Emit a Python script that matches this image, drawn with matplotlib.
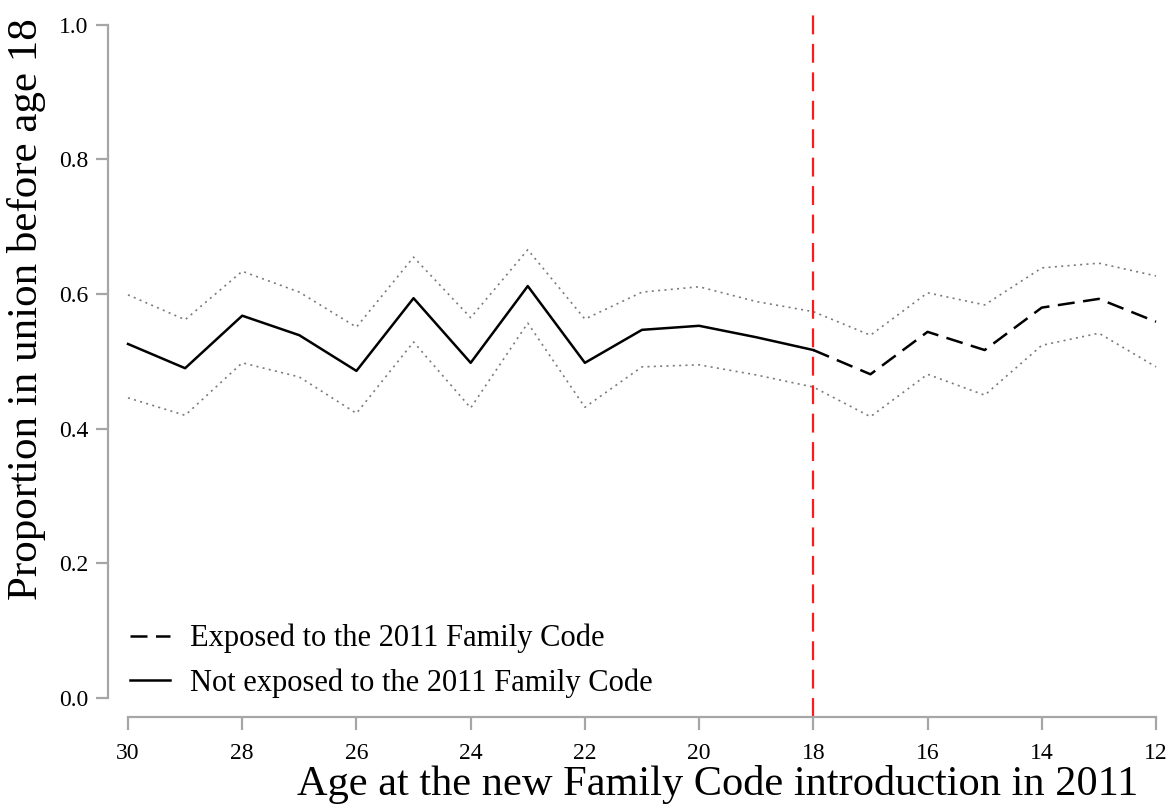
import matplotlib
matplotlib.use("Agg")
import matplotlib.pyplot as plt

plt.rcParams['font.family'] = ['Liberation Serif', 'DejaVu Serif']

# age at the 2011 Family Code introduction
ages = [30, 29, 28, 27, 26, 25, 24, 23, 22, 21, 20, 19, 18, 17, 16, 15, 14, 13, 12]
# proportion in union before 18, with confidence bounds
prop = [0.526, 0.490, 0.568, 0.539, 0.486, 0.594, 0.498, 0.612, 0.498, 0.547,
        0.553, 0.536, 0.517, 0.481, 0.544, 0.517, 0.580, 0.593, 0.559]
upper = [0.599, 0.562, 0.634, 0.603, 0.551, 0.655, 0.565, 0.666, 0.563, 0.603,
         0.611, 0.589, 0.574, 0.539, 0.602, 0.584, 0.639, 0.646, 0.627]
lower = [0.446, 0.420, 0.498, 0.477, 0.423, 0.529, 0.431, 0.557, 0.432, 0.492,
         0.495, 0.480, 0.462, 0.418, 0.481, 0.450, 0.524, 0.542, 0.492]
cutoff = 18

x_ticks = [30, 28, 26, 24, 22, 20, 18, 16, 14, 12]
y_ticks = [0.0, 0.2, 0.4, 0.6, 0.8, 1.0]

fig = plt.figure(figsize=(11.75, 8.1), dpi=100)
ax = fig.add_axes([108 / 1175, 93 / 810, 1068 / 1175, 707 / 810])

# confidence bounds
ax.plot(ages, upper, color='#7a7a7a', lw=1.2, linestyle=(0, (1.2, 2.6)))
ax.plot(ages, lower, color='#7a7a7a', lw=1.2, linestyle=(0, (1.2, 2.6)))

# split the series at the cutoff age
not_exp = [i for i, a in enumerate(ages) if a >= cutoff]
exp = [i for i, a in enumerate(ages) if a <= cutoff]
ax.plot([ages[i] for i in exp], [prop[i] for i in exp], color='black', lw=1.8,
        linestyle=(0, (6.8, 3.4)), label='Exposed to the 2011 Family Code')
ax.plot([ages[i] for i in not_exp], [prop[i] for i in not_exp], color='black', lw=1.8,
        label='Not exposed to the 2011 Family Code')

ax.axvline(cutoff, color='#ff1a1a', lw=1.6, linestyle=(0, (8.5, 4.3)))

ax.set_xlim(30.35, 11.65)
ax.set_ylim(-0.028, 1.022)

for s in ['top', 'right']:
    ax.spines[s].set_visible(False)
for s in ['left', 'bottom']:
    ax.spines[s].set_color('#a6a6a6')
    ax.spines[s].set_linewidth(1.6)
ax.spines['left'].set_bounds(0, 1)
ax.spines['bottom'].set_bounds(30, 12)

ax.set_xticks(x_ticks)
ax.set_yticks(y_ticks)
ax.set_yticklabels([f'{v:.1f}' for v in y_ticks])
ax.tick_params(axis='both', colors='#a6a6a6', length=9, width=1.6, labelsize=17,
               labelcolor='black')
ax.tick_params(axis='x', pad=10)
ax.tick_params(axis='y', pad=5)

ax.set_xlabel('Age at the new Family Code introduction in 2011', fontsize=30.5)
ax.xaxis.label.set_verticalalignment('baseline')
ax.xaxis.set_label_coords(0.571, -0.110)
ax.set_ylabel('Proportion in union before age 18', fontsize=31)
ax.yaxis.set_label_coords(-0.058, 0.577)

ax.legend(loc='lower left', bbox_to_anchor=(-0.005, -0.012), frameon=False, fontsize=22,
          handlelength=1.3, handletextpad=0.65, labelspacing=0.5)

fig.savefig('out.png', dpi=100)
